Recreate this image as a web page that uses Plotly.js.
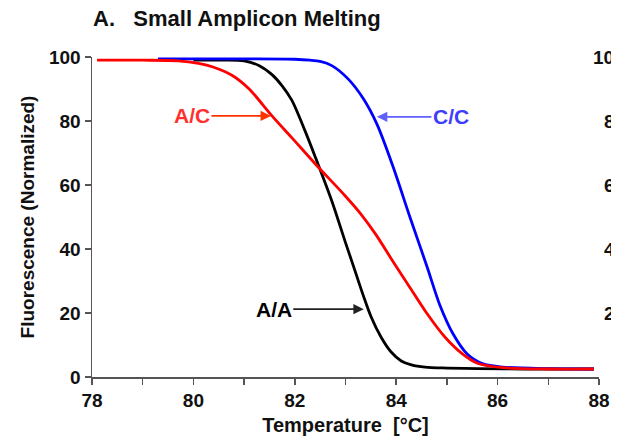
<!DOCTYPE html>
<html>
<head>
<meta charset="utf-8">
<script src="https://cdn.plot.ly/plotly-3.0.1.min.js"></script>
<style>html,body{margin:0;padding:0;background:#fff;}#wrap{width:611px;height:436px;overflow:hidden;}#chart{width:623px;height:436px;}</style>
</head>
<body>
<div id="wrap"><div id="chart"></div></div>
<script>
// Temperature (°C) and normalized fluorescence
const aaTemp = [80, 80.5, 81.0, 81.3, 81.55, 81.75, 81.94, 82.2, 82.41, 82.73, 83.0, 83.16, 83.35, 83.5, 83.7, 83.9, 84.1, 84.3, 84.57, 85.0, 85.6, 86.5, 87.9];
const aaVal  = [99, 99, 98.8, 97.3, 94.5, 91, 86.5, 77, 68.5, 55, 42, 34.5, 25.5, 19, 12.5, 7.8, 5, 3.8, 3.1, 2.8, 2.6, 2.5, 2.5];

const acTemp = [78.1, 79, 79.7, 80.1, 80.4, 80.76, 81.1, 81.55, 81.94, 82.41, 83.0, 83.3, 83.6, 83.94, 84.27, 84.6, 84.96, 85.3, 85.6, 86.1, 87, 87.9];
const acVal  = [99, 99, 98.8, 98, 96.8, 94.3, 90, 81.6, 74.8, 66.5, 56.5, 51, 44.5, 36, 28, 20, 12.5, 7.3, 4.3, 2.9, 2.5, 2.5];

const ccTemp = [79.3, 80, 81, 82, 82.3, 82.5, 82.73, 83.06, 83.35, 83.62, 83.94, 84.27, 84.61, 84.86, 85.12, 85.4, 85.7, 86.1, 87, 87.9];
const ccVal  = [99.4, 99.4, 99.4, 99.3, 99, 98.6, 97.3, 93, 87, 79, 65.6, 50, 34.4, 22.5, 13.5, 7.2, 4.2, 3.1, 2.6, 2.5];

const labels = ['A/C', 'C/C', 'A/A'];
const labelTip = [[81.53, 81.6], [83.62, 81.3], [83.36, 21.2]];
const sideTicks = ['100', '80', '60', '40', '20'];
const sideTickVals = [100, 80, 60, 40, 20];

const FONT = 'Liberation Sans, Arial, sans-serif';
const LINE = {width: 2.8, shape: 'spline', smoothing: 0.85};

const traces = [
  {x: aaTemp, y: aaVal, mode: 'lines', line: Object.assign({color: '#000000'}, LINE), name: 'A/A'},
  {x: ccTemp, y: ccVal, mode: 'lines', line: Object.assign({color: '#0000ff'}, LINE), name: 'C/C'},
  {x: acTemp, y: acVal, mode: 'lines', line: Object.assign({color: '#ff0000'}, LINE), name: 'A/C'}
];

const annColors = ['#ff3030', '#3d3dff', '#000000'];
const arrowColors = ['#ff3300', '#6060ff', '#222222'];
const axOff = [-79, 74, -90];

const annotations = labels.map((t, i) => ({
  x: labelTip[i][0], y: labelTip[i][1], xref: 'x', yref: 'y',
  text: t, showarrow: true, ax: axOff[i], ay: 0,
  arrowhead: 2, arrowsize: 1.3, arrowwidth: 1.6, arrowcolor: arrowColors[i],
  font: {family: FONT, size: 21, color: annColors[i], weight: 'bold'}
}));

// cut-off tick labels of the neighbouring panel at the right edge
sideTicks.forEach((t, i) => annotations.push({
  x: (627 - 92) / 507, xref: 'paper', xanchor: 'right', y: sideTickVals[i], yref: 'y', yanchor: 'middle',
  text: t, showarrow: false,
  font: {family: FONT, size: 19, color: '#111', weight: 'bold'}
}));

const layout = {
  width: 623, height: 436,
  margin: {l: 92, r: 24, t: 57, b: 59},
  paper_bgcolor: '#fff', plot_bgcolor: '#fff',
  showlegend: false,
  font: {family: FONT, color: '#111'},
  title: {
    text: 'A.&nbsp;&nbsp;&nbsp;Small Amplicon Melting',
    x: 93/623, xref: 'container', xanchor: 'left',
    y: 1 - 18/436, yanchor: 'middle',
    font: {family: FONT, size: 22, color: '#111', weight: 'bold'}
  },
  xaxis: {
    range: [78, 88], dtick: 2, tick0: 78,
    showgrid: false, zeroline: false,
    showline: true, linecolor: '#555', linewidth: 1.5,
    ticks: 'outside', ticklen: 6, tickcolor: '#555', tickwidth: 1.5,
    minor: {dtick: 1, ticks: 'outside', ticklen: 6, tickcolor: '#555', tickwidth: 1.5, showgrid: false},
    tickfont: {family: FONT, size: 19, color: '#111', weight: 'bold'},
    title: {text: 'Temperature&nbsp;&nbsp;[°C]', standoff: 7,
      font: {family: FONT, size: 20, color: '#111', weight: 'bold'}}
  },
  yaxis: {
    range: [0, 100], dtick: 20,
    showgrid: false, zeroline: false,
    showline: true, linecolor: '#555', linewidth: 1.5,
    ticks: 'outside', ticklen: 6, tickcolor: '#555', tickwidth: 1.5,
    tickfont: {family: FONT, size: 19, color: '#111', weight: 'bold'},
    title: {text: 'Fluorescence (Normalized)', standoff: 9,
      font: {family: FONT, size: 19, color: '#111', weight: 'bold'}}
  },
  annotations: annotations
};

Plotly.newPlot('chart', traces, layout, {displayModeBar: false, staticPlot: true});
</script>
</body>
</html>
